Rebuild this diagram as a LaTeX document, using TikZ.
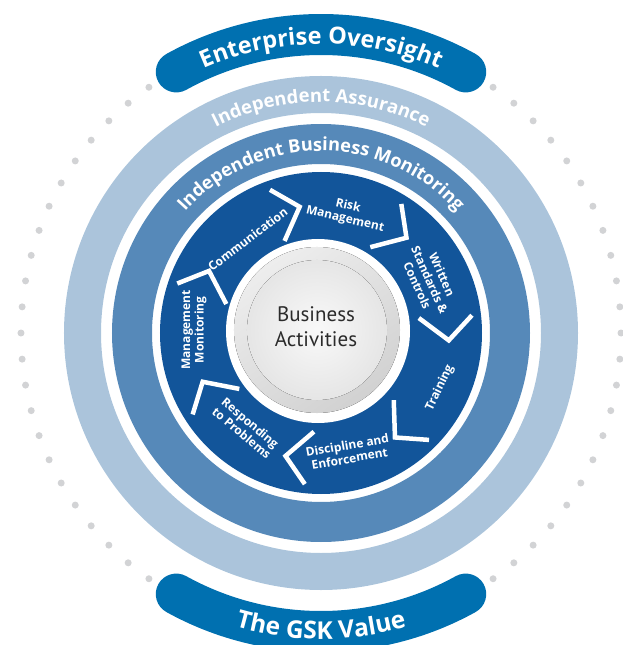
\documentclass[tikz,border=0pt]{standalone}
\usepackage{fontspec}
\setmainfont{PT Sans}
\newfontfamily\labelfont{Open Sans}
\usetikzlibrary{decorations.text}
\definecolor{banner}{HTML}{0070B0}
\definecolor{ringdark}{HTML}{12559A}
\definecolor{ringmid}{HTML}{5689B9}
\definecolor{ringlight}{HTML}{ABC4DB}
\definecolor{dotgray}{HTML}{D2D3D5}
\definecolor{coretext}{HTML}{2B2B2B}

\begin{document}
\begin{tikzpicture}[x=1pt,y=1pt,
  steplabel/.style={text=white, font=\labelfont\bfseries\fontsize{12}{13.5}\selectfont,
                    align=center, inner sep=0pt},
  chevron/.style={draw=white, line width=4.5pt, line join=miter},
  bannerarc/.style={draw=banner, line width=41pt, line cap=round},
  arctext/.style={decorate, decoration={text along path, text align=center,
                  text color=white, text={#1}}}
]
\useasboundingbox (-321,-312) rectangle (302,333);

% dotted guide circle on both sides
\foreach \a in {-55,-50,...,55} \fill[dotgray] (\a:300) circle (3.5);
\foreach \a in {125,130,...,235} \fill[dotgray] (\a:300) circle (3.5);

% concentric rings
\fill[ringlight, even odd rule] (0,0) circle (257) (0,0) circle (220);
\fill[ringmid, even odd rule] (0,0) circle (209) (0,0) circle (169);
\fill[ringdark] (0,0) circle (161);
\fill[white] (-3,2) circle (92);

% core button
\fill[top color=gray!14, bottom color=gray!36, shading angle=35] (-4,3) circle (83);
\fill[inner color=gray!5, outer color=gray!20] (-4,3) circle (70);
\node[font=\fontsize{21}{25}\selectfont, text=coretext, align=center] (core) at (-5,6) {Business\\Activities};

% banners
\draw[bannerarc] (119:298.5) arc[start angle=119, end angle=61, radius=298.5];
\draw[bannerarc] (-119:298.5) arc[start angle=-119, end angle=-61, radius=298.5];
\path[arctext={|\labelfont\bfseries\fontsize{23.5}{23.5}\selectfont|Enterprise Oversight}]
  (125:289) arc[start angle=125, end angle=55, radius=289];
\path[arctext={|\labelfont\bfseries\fontsize{24.5}{24.5}\selectfont|The GSK Value}]
  (-125:306) arc[start angle=-125, end angle=-55, radius=306];

% ring titles
\path[arctext={|\labelfont\bfseries\fontsize{18.5}{18.5}\selectfont|Independent Assurance}]
  (135:231) arc[start angle=135, end angle=45, radius=231];
\path[arctext={|\labelfont\bfseries\fontsize{18.2}{18.2}\selectfont|Independent Business Monitoring}]
  (150:182) arc[start angle=150, end angle=30, radius=182];

% chevrons between the steps
\foreach \t in {151,99.6,48.1,-3.3,-54.7,-106.1,-157.6}
  \draw[chevron] ({\t+10}:152) -- (\t:128) -- ({\t+12}:99);

% steps of the cycle
\node[steplabel, rotate=37]  (comm)       at (128:119)    {Communication};
\node[steplabel, rotate=-13] (risk)       at (78:123)     {Risk\\Management};
\node[steplabel, rotate=-66] (written)    at (26:121)     {Written\\Standards \&\\Controls};
\node[steplabel, rotate=64]  (training)   at (-24.8:131)  {Training};
\node[steplabel, rotate=10]  (discipline) at (-77:122)    {Discipline and\\Enforcement};
\node[steplabel, rotate=-40] (responding) at (-128.3:121) {Responding\\to Problems};
\node[steplabel, rotate=90]  (mgmt)       at (178.6:127)  {Management\\Monitoring};
\end{tikzpicture}
\end{document}
